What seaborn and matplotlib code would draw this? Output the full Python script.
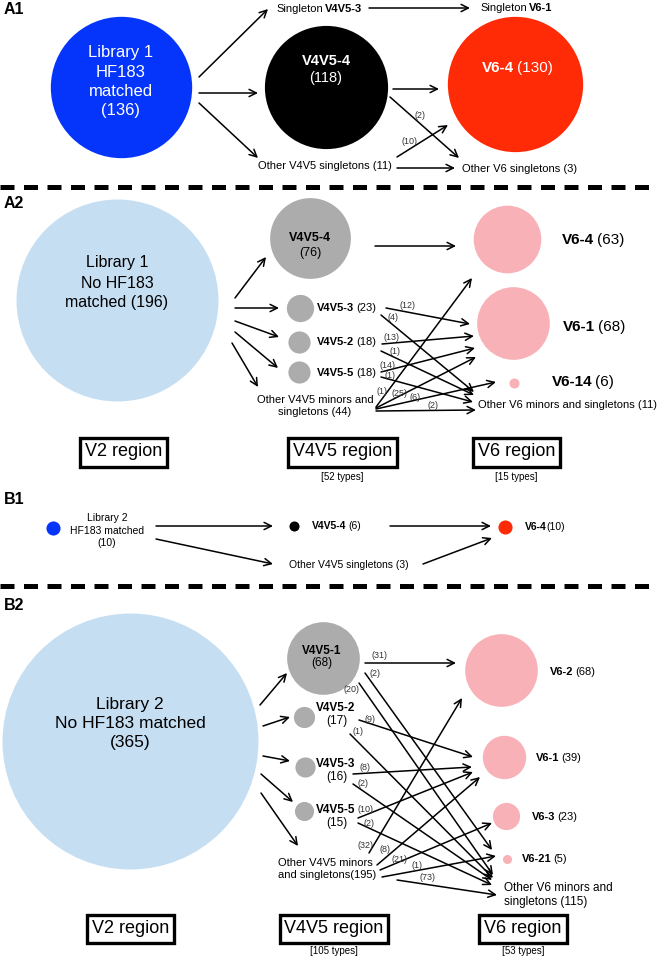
import matplotlib
matplotlib.use("Agg")
import matplotlib.pyplot as plt
from matplotlib.patches import Rectangle
import seaborn as sns

# ---------------- data ----------------
regions = ["V2 region", "V4V5 region", "V6 region"]

# A1: library 1, HF183 matched
a1_root_lines = ["Library 1", "HF183", "matched"]
a1_names = ["root", "V4V5-4", "V6-4"]
a1_counts = [136, 118, 130]
a1_cross = [2, 10]

# A2: library 1, no HF183 matched
a2_root_lines = ["Library 1", "No HF183", "matched"]
a2_names = ["root", "V4V5-4", "V4V5-3", "V4V5-2", "V4V5-5", "V6-4", "V6-1", "V6-14"]
a2_counts = [196, 76, 23, 18, 18, 63, 68, 6]
a2_other = [44, 11]
a2_cross = [12, 4, 13, 1, 14, 1, 1, 25, 6, 2]
a2_types = [52, 15]

# B1: library 2, HF183 matched
b1_names = ["root", "V4V5-4", "V6-4"]
b1_counts = [10, 6, 10]
b1_other = 3

# B2: library 2, no HF183 matched
b2_names = ["root", "V4V5-1", "V4V5-2", "V4V5-3", "V4V5-5", "V6-2", "V6-1", "V6-3", "V6-21"]
b2_counts = [365, 68, 17, 16, 15, 68, 39, 23, 5]
b2_other = [195, 115]
b2_cross = [31, 2, 20, 9, 1, 8, 2, 10, 2, 32, 8, 21, 1, 73]
b2_types = [105, 53]

# ---------------- layout (pixel coords, y down) ----------------
W, H, DPI = 658, 959, 100
PT = 72 / DPI

a1_xy = [(121, 87), (326, 87), (515, 84)]
a2_xy = [(117, 300), (310, 238), (300, 308), (299, 342), (299, 372),
         (507, 239), (513, 323), (514, 383)]
b1_xy = [(53, 528), (294, 526), (505, 527)]
b2_xy = [(130, 741), (323, 658), (304, 717), (305, 767), (304, 811),
         (501, 670), (504, 757), (506, 816), (507, 859)]

a1_arrows = [(199, 77, 268, 9), (199, 93, 258, 93), (199, 103, 258, 158),
             (369, 8, 470, 8), (393, 89, 439, 89), (397, 168, 455, 168)]
a1_cross_seg = [(390, 97, 459, 158), (397, 157, 448, 125)]
a1_cross_lbl = [(420, 115), (410, 141)]

a2_arrows = [(235, 298, 266, 257), (235, 308, 279, 308), (235, 321, 279, 337),
             (235, 332, 278, 368), (232, 343, 258, 387), (375, 246, 456, 246)]
a2_cross_seg = [(386, 308, 470, 324), (381, 315, 474, 392), (382, 344, 474, 336),
                (381, 351, 474, 395), (381, 372, 475, 348), (381, 377, 473, 402),
                (376, 407, 472, 278), (376, 408, 476, 357), (376, 409, 496, 382),
                (376, 411, 476, 410)]
a2_cross_lbl = [(407, 305), (393, 317), (392, 337), (395, 352), (388, 365),
                (390, 375), (382, 392), (400, 393), (415, 398), (433, 406)]

b1_arrows = [(156, 526, 273, 526), (156, 539, 273, 564),
             (390, 526, 491, 526), (423, 564, 492, 538)]

b2_arrows = [(260, 705, 287, 673), (263, 726, 290, 717), (263, 756, 290, 761),
             (261, 774, 293, 802), (261, 793, 298, 846)]
b2_cross_seg = [(365, 663, 456, 663), (365, 673, 492, 850), (359, 683, 493, 875),
                (359, 720, 473, 757), (350, 734, 493, 878), (353, 774, 472, 767),
                (353, 784, 492, 880), (358, 818, 473, 772), (358, 823, 492, 885),
                (369, 853, 462, 698), (377, 865, 480, 777), (380, 870, 492, 823),
                (382, 877, 496, 856), (397, 880, 497, 895)]
b2_cross_lbl = [(379, 656), (375, 673), (352, 690), (370, 719), (358, 732),
                (365, 767), (363, 784), (365, 810), (369, 823), (365, 845),
                (385, 850), (399, 859), (417, 866), (427, 878)]

a2_boxes = [(80, 438, 167, 467), (288, 438, 397, 467), (473, 438, 560, 467)]
b2_boxes = [(87, 915, 174, 943), (280, 915, 388, 943), (479, 915, 567, 943)]

BLUE, RED = "#0534FA", "#FF2A06"
LIGHT_BLUE, GRAY, PINK = "#C6DEF2", "#ACACAC", "#F8B2B7"

sns.set_theme(style="white")
plt.rcParams["font.family"] = ["Liberation Sans", "DejaVu Sans"]


def radius(n):
    # circle radius grows with number of sequences, large roots are capped
    return min(2 + 0.505 * n, 128)


def node(ax, xy, n, color):
    sns.scatterplot(x=[xy[0]], y=[xy[1]], s=(2 * radius(n) * PT) ** 2,
                    color=color, linewidth=0, ax=ax, legend=False, zorder=1)


def arrow(ax, seg, lw=1.1, ms=13):
    x0, y0, x1, y1 = seg
    ax.annotate("", xy=(x1, y1), xytext=(x0, y0),
                arrowprops=dict(arrowstyle="->", lw=lw, color="black",
                                shrinkA=0, shrinkB=0, mutation_scale=ms))


def label(ax, x, y, s, size, ha="center", weight="normal", color="black"):
    return ax.text(x, y, s, fontsize=size, ha=ha, va="center",
                   fontweight=weight, color=color)


def rich(ax, x, y, parts, size, color="black", space=True):
    # bold name followed by a normal count, placed right after each other
    prev = None
    for txt, bold in parts:
        w = "bold" if bold else "normal"
        if prev is None:
            prev = ax.text(x, y, txt, fontsize=size, fontweight=w, color=color,
                           ha="left", va="center")
        else:
            gap = 0.16 * size if space else 0.0
            prev = ax.annotate(txt, xy=(1, 0), xycoords=prev, xytext=(gap, 0),
                               textcoords="offset points", fontsize=size,
                               fontweight=w, color=color, ha="left", va="bottom")
    return prev


def cross(ax, segs, lbls, counts, size=6.5):
    for seg, (lx, ly), c in zip(segs, lbls, counts):
        arrow(ax, seg)
        label(ax, lx, ly, f"({c})", size, color="#333333")


def boxes(ax, rects, types, types_y):
    for (x0, y0, x1, y1), name in zip(rects, regions):
        ax.add_patch(Rectangle((x0, y0), x1 - x0, y1 - y0, fill=False,
                               lw=2.4, edgecolor="black"))
        label(ax, (x0 + x1) / 2, (y0 + y1) / 2 - 0.5, name, 13)
    for (x0, y0, x1, y1), t in zip(rects[1:], types):
        label(ax, (x0 + x1) / 2, types_y, f"[{t} types]", 7)


fig = plt.figure(figsize=(W / DPI, H / DPI), dpi=DPI)
ax = fig.add_axes([0, 0, 1, 1])

# ---------- A1 ----------
label(ax, 4, 10, "A1", 11.5, ha="left", weight="bold")
for xy, n, c in zip(a1_xy, a1_counts, [BLUE, "black", RED]):
    node(ax, xy, n, c)
for i, line in enumerate(a1_root_lines + [f"({a1_counts[0]})"]):
    label(ax, a1_xy[0][0], 53 + i * 19.3, line, 12, color="white")
label(ax, a1_xy[1][0], 61, a1_names[1], 10.5, weight="bold", color="white")
label(ax, a1_xy[1][0], 78, f"({a1_counts[1]})", 10.5, color="white")
rich(ax, 482, 68, [(a1_names[2], True), (f"({a1_counts[2]})", False)], 11, color="white")
rich(ax, 276, 9, [("Singleton", False), ("V4V5-3", True)], 8)
rich(ax, 480, 8, [("Singleton", False), ("V6-1", True)], 8)
label(ax, 258, 166, "Other V4V5 singletons (11)", 8, ha="left")
label(ax, 462, 169, "Other V6 singletons (3)", 8, ha="left")
for seg in a1_arrows:
    arrow(ax, seg)
cross(ax, a1_cross_seg, a1_cross_lbl, a1_cross)

ax.plot([0, W], [187, 187], color="black", lw=3.6, ls=(0, (2.8, 1.9)))

# ---------- A2 ----------
label(ax, 4, 204, "A2", 11.5, ha="left", weight="bold")
colors_a2 = [LIGHT_BLUE, GRAY, GRAY, GRAY, GRAY, PINK, PINK, PINK]
for xy, n, c in zip(a2_xy, a2_counts, colors_a2):
    node(ax, xy, n, c)
lines = a2_root_lines[:2] + [f"{a2_root_lines[2]} ({a2_counts[0]})"]
for i, line in enumerate(lines):
    label(ax, a2_xy[0][0], 263 + i * 20, line, 11.5)
label(ax, a2_xy[1][0], 238, a2_names[1], 9, weight="bold")
label(ax, a2_xy[1][0], 253, f"({a2_counts[1]})", 9)
for name, n, y in zip(a2_names[2:5], a2_counts[2:5], [308, 342, 373]):
    rich(ax, 317, y, [(name, True), (f"({n})", False)], 8)
label(ax, 315, 400, "Other V4V5 minors and", 8)
label(ax, 315, 412, f"singletons ({a2_other[0]})", 8)
for name, n, (x, y) in zip(a2_names[5:], a2_counts[5:], [(562, 240), (563, 327), (552, 382)]):
    rich(ax, x, y, [(name, True), (f"({n})", False)], 11)
label(ax, 478, 405, f"Other V6 minors and singletons ({a2_other[1]})", 8, ha="left")
for seg in a2_arrows:
    arrow(ax, seg)
cross(ax, a2_cross_seg, a2_cross_lbl, a2_cross)
boxes(ax, a2_boxes, a2_types, 477)

# ---------- B1 ----------
label(ax, 4, 500, "B1", 11.5, ha="left", weight="bold")
for xy, n, c in zip(b1_xy, b1_counts, [BLUE, "black", RED]):
    node(ax, xy, n, c)
for line, y in zip(["Library 2", "HF183 matched", f"({b1_counts[0]})"], [518, 531, 543]):
    label(ax, 107, y, line, 7.5)
rich(ax, 312, 526, [(b1_names[1], True), (f"({b1_counts[1]})", False)], 7.5)
rich(ax, 525, 527, [(b1_names[2], True), (f"({b1_counts[2]})", False)], 7.5, space=False)
label(ax, 289, 565, f"Other V4V5 singletons ({b1_other})", 7.5, ha="left")
for seg in b1_arrows:
    arrow(ax, seg)

ax.plot([0, W], [586, 586], color="black", lw=3.6, ls=(0, (2.8, 1.9)))

# ---------- B2 ----------
label(ax, 4, 606, "B2", 11.5, ha="left", weight="bold")
colors_b2 = [LIGHT_BLUE, GRAY, GRAY, GRAY, GRAY, PINK, PINK, PINK, PINK]
for xy, n, c in zip(b2_xy, b2_counts, colors_b2):
    node(ax, xy, n, c)
for line, y in zip(["Library 2", "No HF183 matched", f"({b2_counts[0]})"], [704, 723, 743]):
    label(ax, b2_xy[0][0], y, line, 12.5)
label(ax, 322, 651, b2_names[1], 8.5, weight="bold")
label(ax, 322, 663, f"({b2_counts[1]})", 8.5)
for name, n, y in zip(b2_names[2:5], b2_counts[2:5], [708, 764, 810]):
    label(ax, 336, y, name, 8.5, weight="bold")
    label(ax, 337, y + 13, f"({n})", 8.5)
label(ax, 278, 863, "Other V4V5 minors", 8, ha="left")
label(ax, 278, 875, f"and singletons({b2_other[0]})", 8, ha="left")
for name, n, (x, y) in zip(b2_names[5:], b2_counts[5:],
                           [(550, 672), (536, 758), (532, 817), (522, 859)]):
    rich(ax, x, y, [(name, True), (f"({n})", False)], 8)
label(ax, 504, 888, "Other V6 minors and", 8.5, ha="left")
label(ax, 504, 902, f"singletons ({b2_other[1]})", 8.5, ha="left")
for seg in b2_arrows:
    arrow(ax, seg)
cross(ax, b2_cross_seg, b2_cross_lbl, b2_cross)
boxes(ax, b2_boxes, b2_types, 951)

ax.set_xlim(0, W)
ax.set_ylim(H, 0)
ax.axis("off")
fig.savefig("out.png", dpi=DPI)
